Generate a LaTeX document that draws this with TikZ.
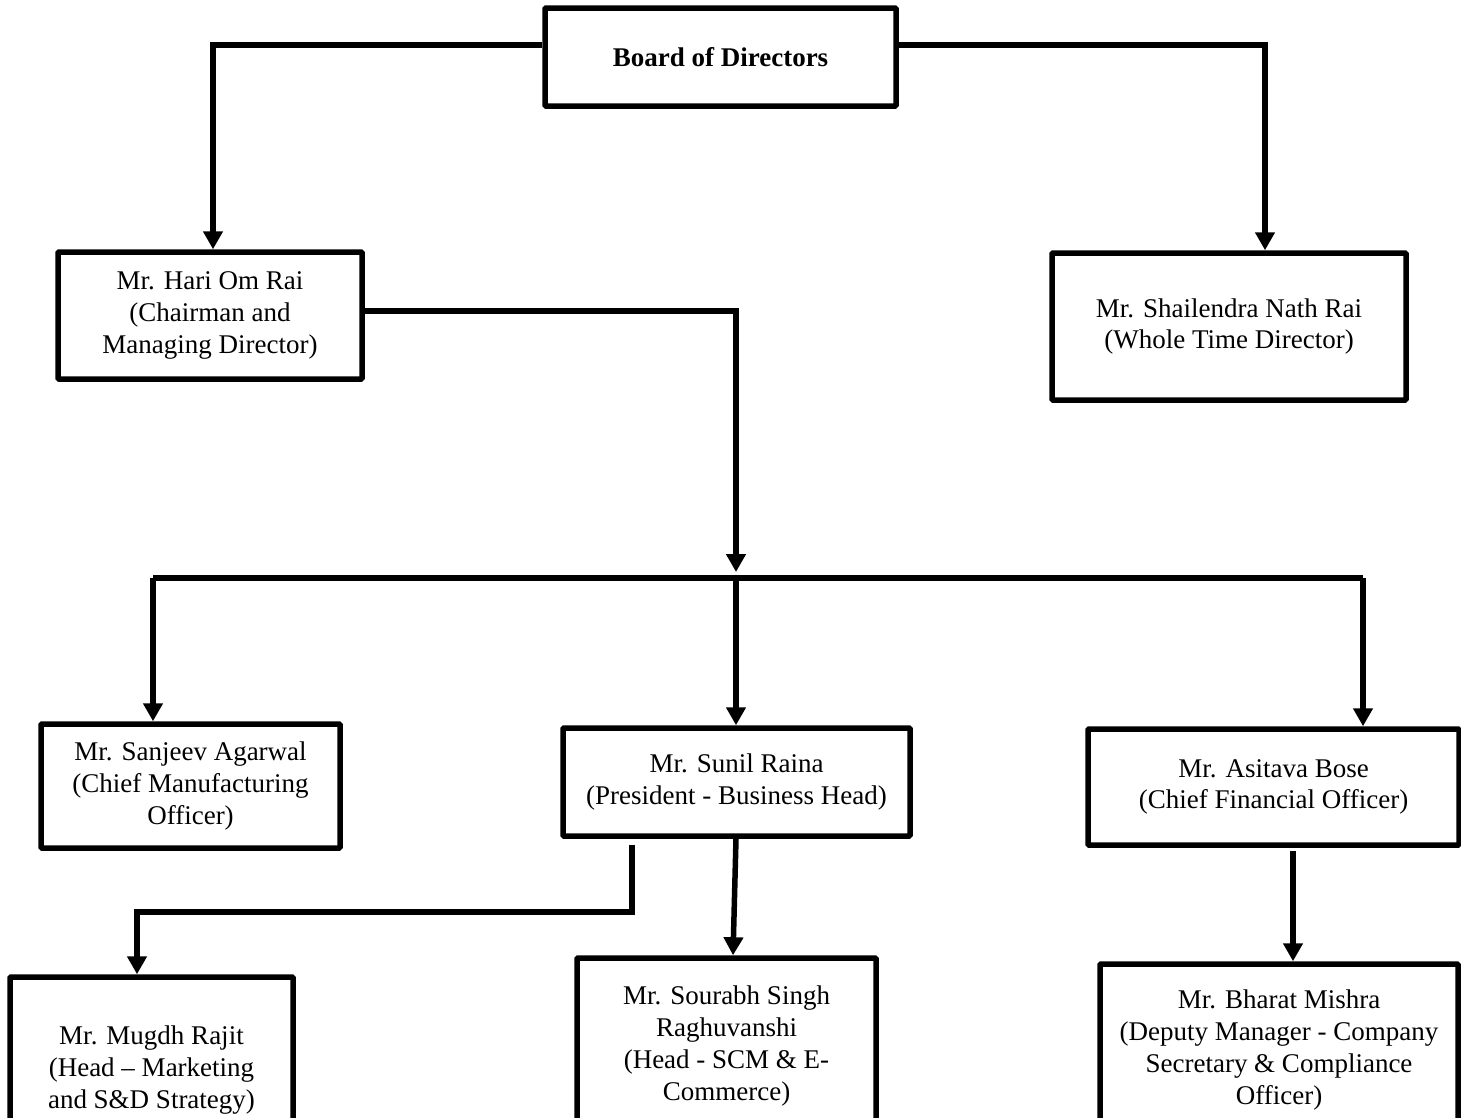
\documentclass[tikz,border=0pt]{standalone}
\usepackage{fontspec}
\setmainfont{Liberation Serif}
\usetikzlibrary{arrows.meta}
\begin{document}
\begin{tikzpicture}[x=1pt,y=-1pt,
  box/.style={draw,line width=5.5pt,rounded corners=1pt,inner sep=0pt,align=center,
    font=\fontsize{27}{31.7}\selectfont},
  conn/.style={line width=5.5pt},
  arr/.style={conn,-{Triangle[width=19pt,length=18pt]}}]
\useasboundingbox (0,0) rectangle (1461,1117);
\clip (0,0) rectangle (1461,1117);
% nodes
\node[box,minimum width=351pt,minimum height=98pt,font=\fontsize{27}{31.7}\selectfont\bfseries] (board) at (720.5,57) {Board of Directors};
\node[box,minimum width=304pt,minimum height=127pt] (hari) at (210,315.5) {Mr. Hari Om Rai\\(Chairman and\\Managing Director)};
\node[box,minimum width=354pt,minimum height=147pt] (shail) at (1229,326.5) {Mr. Shailendra Nath Rai\\(Whole Time Director)};
\node[box,minimum width=299pt,minimum height=124pt] (sanjeev) at (190.5,786) {Mr. Sanjeev Agarwal\\(Chief Manufacturing\\Officer)};
\node[box,minimum width=347pt,minimum height=108pt] (sunil) at (736.5,782) {Mr. Sunil Raina\\(President - Business Head)};
\node[box,minimum width=371pt,minimum height=116pt] (asitava) at (1273.5,787) {Mr. Asitava Bose\\(Chief Financial Officer)};
\node[box,minimum width=283pt,minimum height=186pt] (mugdh) at (151.5,1070) {Mr. Mugdh Rajit\\(Head – Marketing\\and S\&D Strategy)};
\node[box,minimum width=299pt,minimum height=176pt] (sourabh) at (726.5,1046) {Mr. Sourabh Singh\\Raghuvanshi\\(Head - SCM \& E-\\Commerce)};
\node[box,minimum width=358pt,minimum height=172pt] (bharat) at (1279,1050) {Mr. Bharat Mishra\\(Deputy Manager - Company\\Secretary \& Compliance\\Officer)};
% bend points
\coordinate (bL) at (213,45);
\coordinate (bR) at (1265,45);
\coordinate (hR) at (736,311);
\coordinate (busL) at (153,578);
\coordinate (busM) at (736,578);
\coordinate (busR) at (1363,578);
\coordinate (s1) at (632,912);
\coordinate (m1) at (137,912);
\coordinate (q) at (733,900);
\coordinate (c) at (1293,900);
% connectors
\draw[arr] (board.west |- bL) -- (bL) -- (bL |- hari.north);
\draw[arr] (board.east |- bR) -- (bR) -- (bR |- shail.north);
\draw[arr,shorten >=6pt] (hari.east |- hR) -- (hR) -- (busM);
\draw[conn] (busL) -- (busR);
\draw[arr] (busL) -- (busL |- sanjeev.north);
\draw[arr] (busM) -- (busM |- sunil.north);
\draw[arr] (busR) -- (busR |- asitava.north);
\draw[arr,shorten <=6pt] (sunil.south -| s1) -- (s1) -- (m1) -- (m1 |- mugdh.north);
\draw[arr] (sunil.south -| busM) -- (q |- sourabh.north);
\draw[arr,shorten <=3pt] (asitava.south -| c) -- (c |- bharat.north);
\end{tikzpicture}
\end{document}
